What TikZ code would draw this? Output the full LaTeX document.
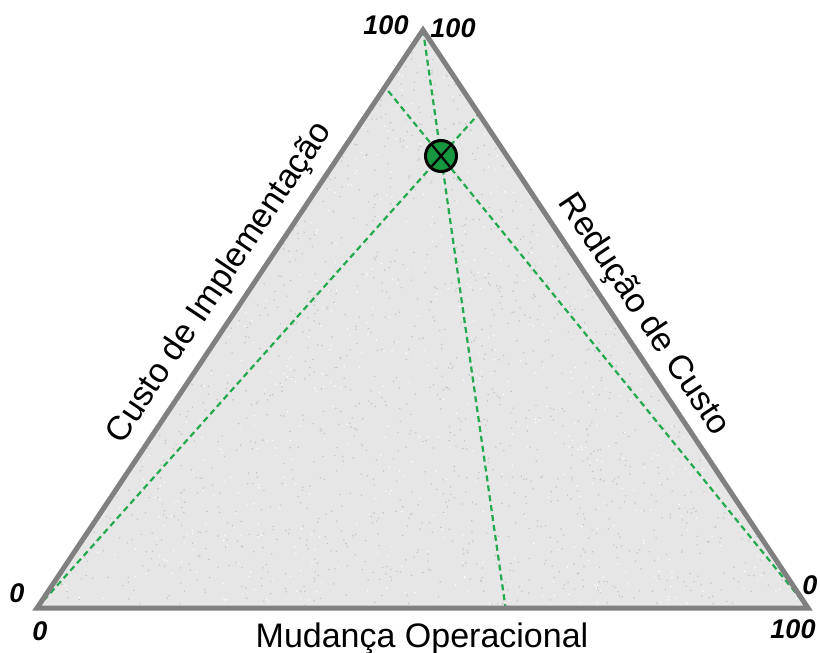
\documentclass[tikz,border=0pt]{standalone}
\usepackage{fontspec}
\setmainfont{Liberation Sans}
\usetikzlibrary{calc,intersections}
\definecolor{edgegray}{RGB}{128,128,128}
\definecolor{fillgray}{RGB}{230,230,230}
\definecolor{speckgray}{RGB}{195,195,195}
\definecolor{dashgreen}{RGB}{36,170,78}
\definecolor{dotgreen}{RGB}{22,150,62}
\tikzset{
  edge/.style={draw=edgegray,line width=5pt,line join=miter},
  guide/.style={draw=dashgreen,line width=2.2pt,dash pattern=on 6pt off 4pt},
  axislabel/.style={font=\fontsize{34}{40}\selectfont,inner sep=0pt},
  numlabel/.style={font=\fontsize{27}{32}\selectfont\bfseries\itshape,inner sep=0pt},
}
\begin{document}
\begin{tikzpicture}[x=1pt,y=-1pt]
\useasboundingbox (0,0) rectangle (820,653);
\coordinate (A) at (423,30);
\coordinate (B) at (37,608);
\coordinate (C) at (808,608);
\coordinate (P) at (441,156);
% triangle with speckled fill
\fill[fillgray] (A) -- (B) -- (C) -- cycle;
\begin{scope}
\clip (A) -- (B) -- (C) -- cycle;
\pgfmathsetseed{7}
\foreach \i in {1,...,2500}{
  \fill[speckgray] ({30+rnd*785},{25+rnd*590}) circle (0.8pt);
}
\foreach \i in {1,...,1200}{
  \fill[white] ({30+rnd*785},{25+rnd*590}) circle (0.8pt);
}
\end{scope}
% guide lines
\path[name path=bc] (B) -- (C);
\path[name path=ab] (A) -- (B);
\path[name path=ac] (A) -- (C);
\path[name path=ap] (A) -- ($(A)!6!(P)$);
\path[name path=bp] (B) -- ($(B)!3!(P)$);
\path[name path=cp] (C) -- ($(C)!3!(P)$);
\path[name intersections={of=bc and ap,by=E1}];
\path[name intersections={of=ac and bp,by=E2}];
\path[name intersections={of=ab and cp,by=E3}];
\draw[guide] (A) -- (E1);
\draw[guide] (B) -- (E2);
\draw[guide] (C) -- (E3);
\draw[edge] (A) -- (B) -- (C) -- cycle;
% point
\node[circle,draw=black,line width=3pt,fill=dotgreen,minimum size=31pt,inner sep=0pt] (dot) at (P) {};
\begin{scope}
\clip (P) circle (14pt);
\draw[black,line width=2.2pt] ($(B)!0.9!(P)$) -- ($(B)!1.1!(P)$);
\draw[black,line width=2.2pt] ($(C)!0.9!(P)$) -- ($(C)!1.1!(P)$);
\end{scope}
% axis labels
\node[axislabel,rotate=56.3] (lleft) at (220,283) {Custo de Implementação};
\node[axislabel,rotate=-56.2] (lright) at (643,315) {Redução de Custo};
\node[axislabel,anchor=base] (lbottom) at (422,647) {Mudança Operacional};
% numbers
\node[numlabel] (n1) at (386,25) {100};
\node[numlabel] (n2) at (453,28) {100};
\node[numlabel] (n3) at (17,593) {0};
\node[numlabel] (n4) at (40,631) {0};
\node[numlabel] (n5) at (810,585) {0};
\node[numlabel] (n6) at (793,629) {100};
\end{tikzpicture}
\end{document}
